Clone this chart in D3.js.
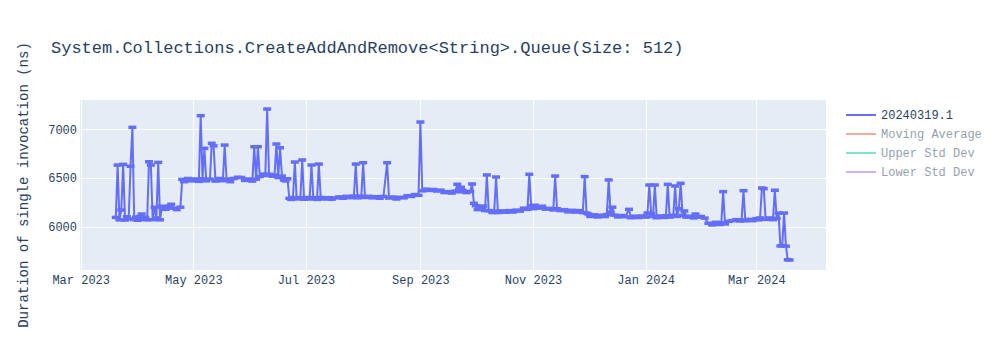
<!DOCTYPE html>
<html><head><meta charset="utf-8">
<script src="https://cdn.jsdelivr.net/npm/d3@7"></script>
<style>body{margin:0;background:#fff}svg{display:block;font-family:"Liberation Mono","Courier New",monospace}</style>
</head><body><svg id="c" width="1000" height="350"></svg>
<script>
const chartTitle = "System.Collections.CreateAddAndRemove<String>.Queue(Size: 512)";
const yAxisTitle = "Duration of single invocation (ns)";
const legendNames = ["20240319.1", "Moving Average", "Upper Std Dev", "Lower Std Dev"];
const legendColors = ["#636efa", "#EF553B", "#00cc96", "#ab63fa"];
const legendVisible = [true, false, false, false];
const yTickValues = [6000, 6500, 7000];

const dates = [
"2023-03-20","2023-03-21","2023-03-22","2023-03-23","2023-03-24","2023-03-25","2023-03-26","2023-03-27",
"2023-03-28","2023-03-29","2023-03-30","2023-03-31","2023-04-01","2023-04-02","2023-04-03","2023-04-04","2023-04-05","2023-04-06",
"2023-04-07","2023-04-08","2023-04-09","2023-04-10","2023-04-11","2023-04-12","2023-04-13","2023-04-14","2023-04-16","2023-04-18",
"2023-04-19","2023-04-20","2023-04-22","2023-04-24","2023-04-25",
"2023-04-26","2023-04-28","2023-04-30","2023-05-02","2023-05-04","2023-05-05","2023-05-06","2023-05-07","2023-05-08","2023-05-10",
"2023-05-11","2023-05-12","2023-05-13","2023-05-15","2023-05-17","2023-05-18","2023-05-19","2023-05-21","2023-05-23","2023-05-25",
"2023-05-27","2023-05-29","2023-05-31","2023-06-02","2023-06-03","2023-06-04","2023-06-05","2023-06-06","2023-06-08","2023-06-09",
"2023-06-10","2023-06-11","2023-06-13","2023-06-14","2023-06-15","2023-06-16","2023-06-17","2023-06-18","2023-06-19","2023-06-20",
"2023-06-21","2023-06-22",
"2023-06-23","2023-06-24","2023-06-25","2023-06-26","2023-06-28","2023-06-29","2023-06-30","2023-07-02","2023-07-03","2023-07-04",
"2023-07-05","2023-07-07","2023-07-08","2023-07-09","2023-07-11","2023-07-13","2023-07-15","2023-07-17","2023-07-19","2023-07-21",
"2023-07-23","2023-07-25","2023-07-27","2023-07-28","2023-07-29","2023-07-31","2023-08-01","2023-08-02","2023-08-04","2023-08-06",
"2023-08-08","2023-08-10","2023-08-12","2023-08-14","2023-08-15","2023-08-17","2023-08-19","2023-08-21","2023-08-23","2023-08-25",
"2023-08-27","2023-08-29","2023-08-31","2023-09-01",
"2023-09-02","2023-09-04","2023-09-06","2023-09-08","2023-09-10","2023-09-12","2023-09-14","2023-09-16","2023-09-18","2023-09-20",
"2023-09-21","2023-09-22","2023-09-23","2023-09-24","2023-09-26","2023-09-28","2023-09-29","2023-09-30",
"2023-10-01","2023-10-02","2023-10-03","2023-10-04","2023-10-05","2023-10-06","2023-10-07","2023-10-08","2023-10-10","2023-10-11",
"2023-10-12","2023-10-13","2023-10-15","2023-10-17","2023-10-19","2023-10-21","2023-10-23","2023-10-25","2023-10-27","2023-10-29",
"2023-10-30","2023-10-31","2023-11-01","2023-11-02","2023-11-04","2023-11-06","2023-11-08","2023-11-10","2023-11-12","2023-11-13",
"2023-11-14","2023-11-16","2023-11-18","2023-11-20","2023-11-22","2023-11-24","2023-11-26","2023-11-28","2023-11-29","2023-11-30",
"2023-12-01","2023-12-02","2023-12-04","2023-12-06","2023-12-08","2023-12-10","2023-12-11","2023-12-12","2023-12-13","2023-12-14",
"2023-12-15","2023-12-17","2023-12-19","2023-12-21","2023-12-23","2023-12-24","2023-12-26","2023-12-28","2023-12-30","2024-01-01",
"2024-01-02","2024-01-03","2024-01-04","2024-01-05","2024-01-06","2024-01-07","2024-01-09","2024-01-11","2024-01-12","2024-01-13",
"2024-01-14","2024-01-16","2024-01-17","2024-01-18","2024-01-19","2024-01-20","2024-01-21","2024-01-22","2024-01-23","2024-01-25",
"2024-01-27","2024-01-28","2024-01-29","2024-01-31","2024-02-02","2024-02-04","2024-02-06","2024-02-08","2024-02-10","2024-02-11",
"2024-02-12","2024-02-13","2024-02-15","2024-02-17","2024-02-19","2024-02-21","2024-02-22","2024-02-23","2024-02-24","2024-02-26",
"2024-02-28","2024-03-01","2024-03-02","2024-03-03","2024-03-04","2024-03-05","2024-03-06","2024-03-08","2024-03-10","2024-03-11",
"2024-03-12","2024-03-13","2024-03-14","2024-03-15","2024-03-16","2024-03-17","2024-03-18","2024-03-19"
];

const values = [
6095,6633,6070,6171,6640,6068,6102,6080,
6620,7020,6072,6098,6066,6104,6130,6075,6096,6070,
6667,6633,6072,6199,6090,6660,6070,6210,6178,6212,
6230,6190,6175,6200,6485,
6462,6495,6470,6490,6465,7140,6492,6805,6470,6488,
6856,6830,6468,6495,6472,6838,6490,6462,6495,6507,
6505,6475,6490,6468,6821,6488,6821,6515,6540,6525,
7208,6538,6518,6530,6849,6505,6810,6520,6480,6470,
6492,6291,
6280,6300,6664,6285,6298,6685,6282,6300,6284,6633,
6298,6280,6643,6300,6284,6298,6282,6296,6306,6292,
6312,6298,6315,6643,6296,6314,6657,6300,6312,6296,
6308,6292,6310,6657,6294,6305,6284,6302,6296,6318,
6310,6330,6322,7075,
6368,6385,6372,6382,6366,6375,6350,6360,6345,6365,
6435,6358,6405,6372,6350,6362,6438,6240,
6215,6175,6205,6180,6212,6165,6531,6165,6145,6160,
6510,6145,6162,6148,6165,6150,6170,6160,6190,6178,
6538,6215,6185,6220,6190,6210,6180,6188,6172,6520,
6185,6165,6175,6152,6168,6150,6165,6145,6514,6140,
6130,6105,6122,6100,6118,6104,6125,6480,6150,6200,
6118,6100,6115,6102,6178,6092,6108,6094,6110,6098,
6140,6428,6135,6105,6428,6092,6110,6095,6112,6434,
6098,6118,6418,6105,6185,6445,6115,6161,6098,6108,
6090,6130,6098,6105,6088,6035,6018,6045,6022,6040,
6360,6028,6055,6062,6072,6058,6070,6370,6060,6075,
6062,6082,6070,6090,6397,6390,6075,6090,6072,6374,
6085,6140,5802,5805,6140,5800,5660,5658
];

const parse = d3.utcParse("%Y-%m-%d");
const data = dates.map((d, i) => ({date: parse(d), value: values[i]}));

const svg = d3.select("#c");
const plot = {left: 80, right: 826, top: 100, bottom: 270};
const font = '"Liberation Mono","Courier New",monospace';
const textColor = "#2a3f5f";

const x = d3.scaleUtc()
  .domain([new Date(Date.UTC(2023, 1, 28, 15)), new Date(Date.UTC(2024, 3, 7, 17))])
  .range([plot.left, plot.right]);
const y = d3.scaleLinear().domain([5555, 7301]).range([plot.bottom, plot.top]);

svg.append("rect").attr("x", 0).attr("y", 0).attr("width", 1000).attr("height", 350).attr("fill", "#fff");
svg.append("rect").attr("x", plot.left).attr("y", plot.top)
  .attr("width", plot.right - plot.left).attr("height", plot.bottom - plot.top).attr("fill", "#E5ECF6");

const xTicks = x.ticks(d3.utcMonth.every(2));
const fmt = d3.utcFormat("%b %Y");

// grid
svg.append("g").selectAll("line").data(xTicks).join("line")
  .attr("x1", d => Math.round(x(d)) + 0.5).attr("x2", d => Math.round(x(d)) + 0.5)
  .attr("y1", plot.top).attr("y2", plot.bottom)
  .attr("stroke", "#fff").attr("stroke-width", 1);
svg.append("g").selectAll("line").data(yTickValues).join("line")
  .attr("x1", plot.left).attr("x2", plot.right)
  .attr("y1", d => Math.round(y(d)) + 0.5).attr("y2", d => Math.round(y(d)) + 0.5)
  .attr("stroke", "#fff").attr("stroke-width", 1);

// x axis
const xAxis = d3.axisBottom(x).tickValues(xTicks).tickFormat(fmt).tickSize(0).tickPadding(5);
const gx = svg.append("g").attr("transform", `translate(0,${plot.bottom})`).call(xAxis);
gx.select(".domain").remove();
gx.selectAll("text").attr("fill", textColor).style("font-family", font).style("font-size", "12px");

// y axis
const yAxis = d3.axisLeft(y).tickValues(yTickValues).tickFormat(d3.format("d")).tickSize(0).tickPadding(3);
const gy = svg.append("g").attr("transform", `translate(${plot.left},0)`).call(yAxis);
gy.select(".domain").remove();
gy.selectAll("text").attr("fill", textColor).style("font-family", font).style("font-size", "12px");

// data
svg.append("defs").append("clipPath").attr("id", "clip").append("rect")
  .attr("x", plot.left).attr("y", plot.top).attr("width", plot.right - plot.left).attr("height", plot.bottom - plot.top);
const g = svg.append("g").attr("clip-path", "url(#clip)");
const line = d3.line().x(d => x(d.date)).y(d => y(d.value));
g.append("path").datum(data).attr("d", line).attr("fill", "none")
  .attr("stroke", legendColors[0]).attr("stroke-width", 2).attr("stroke-linejoin", "round");
g.append("g").selectAll("path").data(data).join("path")
  .attr("d", d => `M${x(d.date) - 4},${y(d.value)}H${x(d.date) + 4}`)
  .attr("stroke", legendColors[0]).attr("stroke-width", 3.5).attr("fill", "none");

// title
svg.append("text").attr("x", 51).attr("y", 47).attr("dy", "0.35em")
  .attr("fill", textColor).style("font-family", font).style("font-size", "17px").text(chartTitle);

// y title
svg.append("text").attr("transform", `translate(23,${(plot.top + plot.bottom) / 2}) rotate(-90)`)
  .attr("text-anchor", "middle").attr("dy", "0.35em")
  .attr("fill", textColor).style("font-family", font).style("font-size", "14px").text(yAxisTitle);

// legend
const lg = svg.append("g");
legendNames.forEach((name, i) => {
  const cy = 115 + i * 19;
  const item = lg.append("g").attr("opacity", legendVisible[i] ? 1 : 0.5);
  item.append("line").attr("x1", 846).attr("x2", 876).attr("y1", cy).attr("y2", cy)
    .attr("stroke", legendColors[i]).attr("stroke-width", 2);
  item.append("text").attr("x", 881).attr("y", cy).attr("dy", "0.35em")
    .attr("fill", textColor).style("font-family", font).style("font-size", "12px").text(name);
});
</script></body></html>
